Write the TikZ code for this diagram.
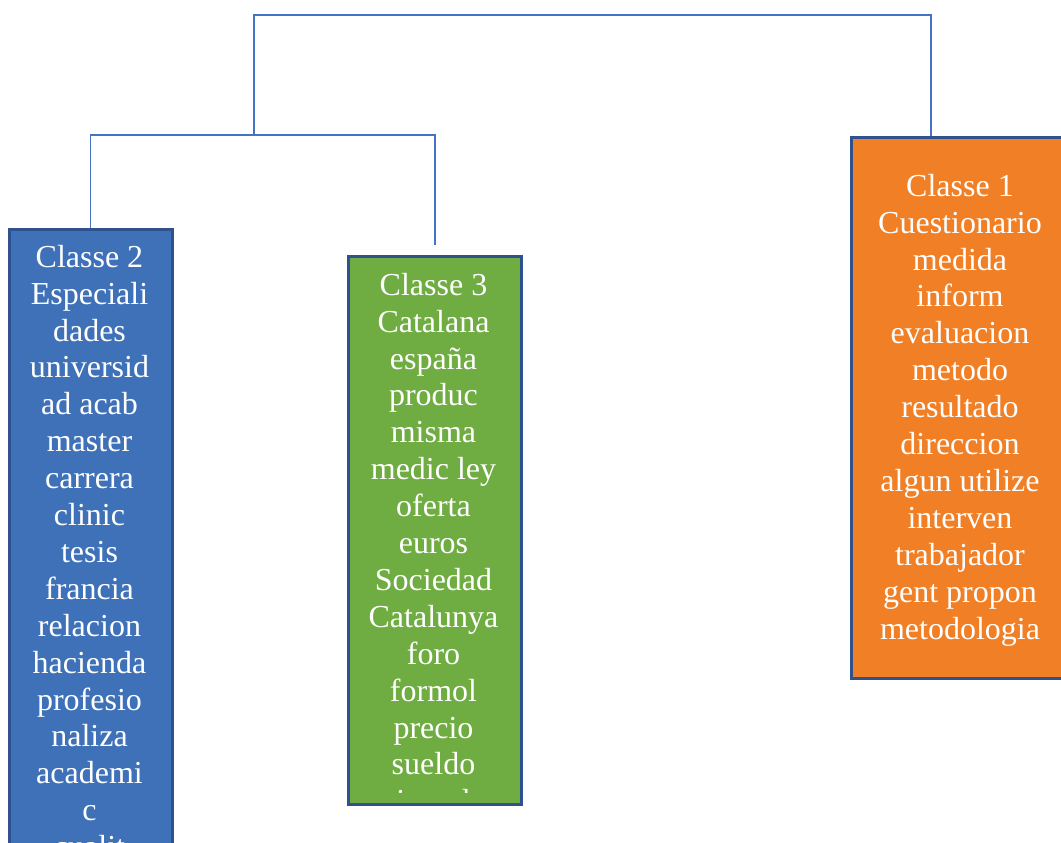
\documentclass[tikz,border=0pt]{standalone}
\usepackage{fontspec}
\setmainfont{Liberation Serif}
\definecolor{lineC}{HTML}{4472C4}
\definecolor{borderC}{HTML}{2F528F}
\definecolor{blueF}{HTML}{3F71B8}
\definecolor{greenF}{HTML}{6FAC42}
\definecolor{orangeF}{HTML}{F07F26}
\begin{document}
\begin{tikzpicture}[x=1pt,y=-1pt,
  conn/.style={draw=lineC, line width=1.2pt},
  cbox/.style={draw=borderC, line width=2.5pt, inner sep=0pt, anchor=north west},
  ctext/.style={text=white, font=\fontsize{32}{36.9}\selectfont, align=center, anchor=north, inner sep=0pt}]
\useasboundingbox (0,0) rectangle (1061,843);
\clip (0,0) rectangle (1061,843);
% boxes
\node[cbox, fill=blueF, minimum width=163pt, minimum height=700pt] (c2) at (8,228) {};
\node[cbox, fill=greenF, minimum width=173pt, minimum height=548pt] (c3) at (347,255) {};
\node[cbox, fill=orangeF, minimum width=222pt, minimum height=541pt] (c1) at (850,136) {};
% connector points
\coordinate (root) at (254,15);
\coordinate (j23) at (254,135);
\coordinate (c1top) at (931,136);
\coordinate (c3end) at (435,245);
\draw[conn] (c1top) |- (root) -- (j23);
\draw[conn] (c2.north) |- (j23) -| (c3end);
% texts
\node[ctext] (t2) at (89.5,241.2) {\rule{0pt}{25.8pt}Classe 2\\Especiali\\dades\\universid\\ad acab\\master\\carrera\\clinic\\tesis\\francia\\relacion\\hacienda\\profesio\\naliza\\academi\\c\\cualit};
\begin{scope}
\clip (349,257) rectangle (518,792);
\node[ctext] (t3) at (433.5,269.2) {\rule{0pt}{25.8pt}Classe 3\\Catalana\\españa\\produc\\misma\\medic ley\\oferta\\euros\\Sociedad\\Catalunya\\foro\\formol\\precio\\sueldo\\jornal};
\end{scope}
\node[ctext] (t1) at (960,170.2) {\rule{0pt}{25.8pt}Classe 1\\Cuestionario\\medida\\inform\\evaluacion\\metodo\\resultado\\direccion\\algun utilize\\interven\\trabajador\\gent propon\\metodologia};
\end{tikzpicture}
\end{document}
